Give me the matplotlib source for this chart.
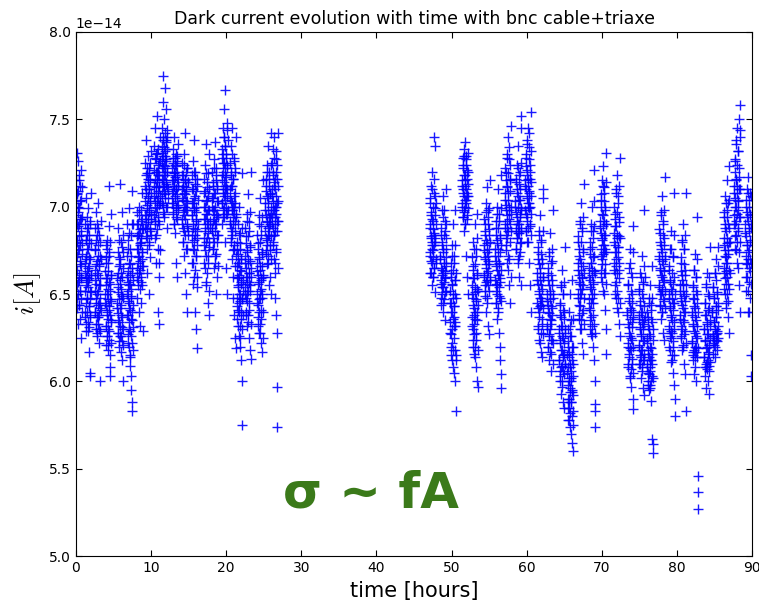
import matplotlib
matplotlib.use("Agg")
import matplotlib.pyplot as plt
import numpy as np

# Dark current readings, grouped by acquisition burst.
# Values are in units of 1e-16 A (e.g. 652 -> 6.52e-14 A).
first_run_times = [0.4, 1.6, 2.9, 4.3, 5.9, 7.2, 8.5, 9.6, 10.8, 11.8, 13.2,
                   14.5, 15.8, 17.4, 18.5, 19.8, 20.9, 21.8, 22.9, 24.5, 25.6, 26.5]
first_run_values = [
    "688 702 715 671 655 690 731 664 642 707 680 697 726 650 633 675 709 661 690 644 718 658 699 683 669 652 712 693 636 678 704 666 625 686 647 721 659 694 673 640",
    "668 690 652 637 681 660 705 645 629 672 694 657 640 684 663 648 676 634 699 654 688 643 666 631 679 659 617 605 603 692 647 670 638 661 708 651",
    "675 652 688 640 664 630 697 656 645 681 626 669 637 690 650 661 633 678 644 702 655 622 667 638 684 648 600 659 629 672 641 692",
    "663 645 678 632 655 621 671 640 650 626 681 659 636 647 618 668 630 712 689 643 657 624 674 638 652 615 608 603 661 634 696 646",
    "659 642 674 628 651 688 635 666 620 647 681 656 632 713 670 626 644 662 617 653 638 697 677 623 649 612 600 665 630 684",
    "672 650 690 638 663 627 681 646 657 620 668 634 699 655 642 615 676 629 661 609 648 684 603 636 595 653 622 588 665 640 583 709 658 631 690",
    "683 665 697 648 676 658 690 671 640 685 662 700 653 678 632 669 692 645 680 660 708 674 655 687 629 666",
    "712 695 725 683 708 690 738 701 676 719 687 662 705 729 693 716 680 698 650 722 710 688 703 671 715 696 732 684",
    "721 706 735 692 716 700 745 682 727 711 697 730 668 714 752 703 687 720 640 709 733 694 718 660 725 701 633 712 690 740 706 675",
    "731 716 745 702 727 760 712 738 697 722 775 709 734 750 718 694 729 742 707 723 768 714 737 700 726 756 711 740 688 720 733 705",
    "722 708 733 697 715 728 702 719 690 712 740 706 724 685 717 700 730 694 710 668 726 703 720 660 714 736 698",
    "710 693 725 680 704 718 688 712 672 700 730 695 715 662 707 742 684 720 698 650 709 690 722 676 703 640 714 686",
    "702 684 718 668 695 710 676 726 690 656 705 681 738 699 664 713 687 640 720 693 672 709 630 697 678 619 716 686 660 704",
    "700 682 716 668 693 709 675 724 688 655 703 680 736 696 662 711 690 645 719 685 672 706 638 698 677 730 692",
    "705 688 720 676 698 712 682 727 693 665 708 686 737 700 672 715 690 650 722 696 680 710 660 703 684",
    "718 702 733 690 725 710 745 698 730 714 756 706 740 694 722 767 708 735 680 717 700 728 665 712 748 696 724 650 710 738",
    "710 692 725 680 703 718 688 735 698 670 712 684 745 700 660 716 690 648 728 696 676 706 638 720 686 625 702 666 619 740 694",
    "666 648 680 636 659 673 641 690 654 626 668 645 700 661 632 676 650 620 685 657 640 670 612 663 647 719 600 575 652 638",
    "672 654 688 640 665 679 648 696 660 632 674 650 707 668 638 683 657 625 691 662 645 677 618 669 652 720 613 660",
    "668 650 684 637 661 676 644 695 657 628 670 647 705 664 633 680 653 622 689 659 641 674 617 666 648 715 640 660",
    "702 686 716 675 695 709 681 724 691 667 705 684 735 698 672 712 689 655 720 694 678 707 660 700 683 742 650",
    "710 694 725 680 703 718 688 733 698 670 712 684 740 700 662 716 690 648 727 696 676 706 638 720 686 628 702 597 574 742 692 712",
]
# denser readings in the middle of each burst
first_run_core = [
    "695 662 681 708 648 672 700 657 689 715 644 676 667 703 652 684 693 660 711 679",
    "662 640 681 655 670 633 688 648 676 658 629 665 684 643 671 652 690 637 679 661",
    "658 640 676 633 667 648 684 628 662 652 672 637 688 645 666 630 680 655 642 670",
    "650 632 668 644 659 626 676 638 653 621 663 641 672 629 656 647 680 635 661 622",
    "645 628 662 639 654 623 671 634 658 642 667 626 650 680 637 660 631 648 674 621",
    "660 638 676 622 652 645 685 630 667 614 656 641 672 626 649 690 635 662 618 644",
    "676 660 690 668 684 655 695 672 662 687 679 664 698 657 682 670 693 666 674 688",
    "703 688 718 695 710 682 722 699 714 691 706 678 719 697 710 686 702 725 693 708",
    "712 695 728 703 690 720 708 684 731 699 715 676 724 705 692 718 668 711 702 726",
    "722 708 735 715 701 729 740 712 724 696 732 718 705 738 713 727 700 720 744 710",
    "715 702 725 709 696 720 712 690 728 705 718 699 723 710 693 716 707 729 701 712",
    "705 690 718 697 680 712 724 686 708 700 693 716 676 711 703 722 689 698 714 684",
    "695 680 710 668 702 688 720 675 698 660 706 684 716 692 672 700 682 712 654 690",
    "693 678 708 665 700 686 719 672 696 657 704 682 714 690 668 698 680 710 652 688",
    "700 686 714 676 705 692 722 680 698 668 708 690 718 695 673 703 684 712 666 694",
    "715 702 728 694 720 708 740 699 725 712 735 704 718 696 730 710 744 706 722 698",
    "705 690 720 682 712 698 730 686 702 675 716 694 726 700 678 708 692 722 672 696",
    "660 643 675 632 655 668 640 684 650 625 664 646 679 656 636 670 648 688 630 658",
    "668 650 683 638 660 675 646 692 656 634 670 652 686 662 641 678 655 697 633 665",
    "663 645 679 632 656 671 640 690 652 628 666 648 684 658 636 673 650 694 625 661",
    "698 682 712 673 692 706 678 720 688 668 702 684 716 694 675 708 690 724 670 696",
    "706 690 720 678 698 714 684 728 694 668 710 686 732 700 674 716 692 724 665 703",
]

second_run_times = [47.5, 48.9, 50.2, 51.8, 53.1, 54.7, 56.2, 57.5, 58.9, 60.2, 61.8,
                    63.1, 64.7, 65.8, 67.2, 68.7, 70.2, 72.0, 73.8, 75.3, 76.4, 78.0,
                    79.3, 80.8, 82.4, 84.0, 85.1, 86.6, 88.0, 89.5]
second_run_values = [
    "690 674 705 662 683 697 669 712 680 655 693 676 720 687 660 700 671 740 684 665 708 678 651 695 682 735 668 702",
    "672 656 688 644 665 680 650 698 661 640 676 654 706 668 647 684 659 635 692 663 671 710 652 682",
    "652 634 668 620 645 660 627 678 640 612 656 630 690 648 618 664 637 605 672 643 625 658 600 650 632 698 583 615 662",
    "715 702 728 694 710 722 698 733 706 686 718 700 737 712 690 724 704 672 729 708 695 716 660 720 650 706",
    "655 637 671 624 648 664 630 680 642 616 659 633 690 651 620 667 640 608 676 646 628 661 600 653 635 696 597 644",
    "678 661 693 649 671 686 655 702 667 640 681 658 711 674 645 690 663 632 698 669 652 684 627 676 660 715",
    "676 658 692 645 669 684 652 700 664 636 679 655 710 672 640 688 661 628 696 667 649 682 620 674 657 612 604 596 718 664",
    "708 690 722 678 701 715 684 730 695 668 711 688 740 704 672 719 693 655 727 698 680 709 645 715 686 746 700",
    "703 688 716 676 697 710 682 724 692 668 706 685 735 700 672 713 690 660 720 694 679 704 655 745 698 752 686",
    "715 698 730 686 710 723 694 738 705 680 718 700 745 712 688 727 702 668 734 708 690 720 655 716 696 754 640 706",
    "662 645 677 632 656 670 640 686 650 624 665 643 695 658 628 673 648 617 681 653 636 668 614 660 642 705 710",
    "650 632 665 620 644 658 627 674 639 612 652 630 685 647 616 661 635 606 669 642 624 655 650 698 610",
    "630 612 645 600 624 638 606 655 618 593 632 609 664 626 597 641 615 588 650 622 604 636 585 628 610 677",
    "615 598 630 585 608 623 590 640 602 578 617 594 650 610 582 626 600 570 635 606 588 620 565 612 595 658 560 575 603 620 592",
    "668 650 683 638 661 676 644 692 656 630 670 648 702 664 635 680 653 622 688 659 641 674 616 666 648 713",
    "665 647 680 635 658 673 641 690 653 627 668 645 700 661 632 677 650 620 686 656 638 671 612 663 703 721 600 587 583 574",
    "692 676 707 664 685 700 670 715 681 657 695 673 723 689 662 703 678 650 711 684 667 698 641 690 674 731 616 630",
    "685 668 700 655 678 693 662 710 674 648 689 666 718 682 652 697 671 640 706 677 659 691 633 683 664 728 626",
    "640 622 656 610 633 648 616 665 628 603 642 619 676 636 607 652 625 597 660 631 613 645 590 637 620 689 584",
    "638 621 653 610 631 646 615 662 627 602 640 618 672 634 606 650 624 596 657 630 612 643 592 698 635 660",
    "625 610 640 600 618 632 605 648 614 595 627 608 655 620 598 636 612 589 644 616 603 666 567 564 559 630",
    "672 655 687 643 665 680 650 697 661 636 676 653 706 669 640 684 658 628 692 663 646 678 624 670 717 652",
    "650 632 666 620 643 658 626 676 638 611 653 629 686 647 615 662 635 605 671 641 623 656 598 645 630 708 590 580",
    "655 638 671 626 648 663 632 681 644 618 658 635 690 652 621 667 640 610 676 646 629 661 604 650 708 583",
    "640 623 655 612 633 648 617 664 629 604 643 620 673 637 608 652 626 600 660 632 614 645 694 546 537 527",
    "630 614 645 603 623 638 608 654 619 596 633 611 662 627 600 641 617 593 649 621 606 635 677 625",
    "640 626 654 616 634 648 621 662 630 614 643 624 670 637 618 651 628 677 645 632",
    "682 665 697 653 675 690 659 706 671 645 686 663 715 679 650 694 668 637 702 673 656 688 628 680 723 662",
    "712 695 727 683 705 720 690 736 700 675 715 692 745 708 680 724 698 665 732 703 686 717 655 710 750 758 640 694 740",
    "690 672 704 660 683 697 667 710 678 652 692 670 717 686 657 700 675 640 708 681 663 695 615 603 688 668",
]
second_run_core = [
    "688 672 702 662 682 695 668 710 678 660 692 675 716 685 665 699 680 706 670 690",
    "670 658 684 648 664 678 654 694 662 645 674 657 698 668 651 686 660 690 666 676",
    "645 628 662 615 640 655 622 672 636 608 650 632 668 643 618 658 634 678 612 648",
    "712 700 724 694 708 718 697 729 704 690 715 702 727 710 693 721 706 731 699 713",
    "650 632 666 620 644 659 627 676 638 614 654 636 672 647 624 662 640 682 618 652",
    "675 660 690 652 670 684 657 697 665 648 679 662 694 672 655 687 667 699 658 680",
    "672 656 688 645 666 681 650 696 661 642 676 654 692 668 648 684 659 699 646 678",
    "704 688 720 675 698 712 682 728 692 664 708 686 734 700 670 716 690 724 660 696",
    "700 686 714 676 694 708 682 722 690 670 704 685 718 696 674 710 688 725 680 699",
    "712 696 728 686 706 721 692 736 702 680 716 699 742 709 689 724 700 732 684 714",
    "658 642 674 630 652 667 637 684 648 622 662 644 680 655 633 670 646 686 627 660",
    "646 630 662 620 640 655 626 672 636 617 650 633 668 643 624 658 638 676 622 648",
    "628 612 644 603 622 637 608 654 618 600 632 614 650 625 606 640 616 657 610 630",
    "605 590 620 578 600 614 585 632 596 574 608 588 626 602 580 616 594 636 583 610",
    "664 648 680 636 657 672 643 690 653 630 668 650 686 660 639 676 655 694 633 662",
    "660 642 676 630 654 668 637 686 648 626 664 645 682 657 633 672 650 689 628 662",
    "688 672 704 660 682 696 667 712 678 652 692 674 708 684 662 700 676 714 656 690",
    "680 664 696 650 674 689 657 708 670 642 684 662 702 677 648 694 668 712 645 682",
    "638 620 655 608 631 646 614 668 626 602 641 618 662 634 610 650 624 674 605 640",
    "636 620 652 610 630 644 614 660 626 608 640 618 656 633 612 648 623 666 616 637",
    "622 608 637 598 616 630 604 645 612 596 626 606 641 619 600 634 610 648 602 624",
    "670 654 685 644 664 678 650 695 660 640 674 652 690 667 647 682 657 698 642 672",
    "648 630 664 618 642 657 625 676 637 612 652 628 672 645 620 660 634 684 615 650",
    "652 636 668 625 646 661 630 680 642 620 656 634 676 649 627 664 640 684 622 655",
    "638 622 654 615 632 647 618 664 628 614 642 620 660 635 617 650 625 670 619 640",
    "630 614 645 608 624 638 610 656 620 607 634 612 650 627 609 642 616 660 611 632",
    "640 626 654 622 634 648 624 662 630 620 643 627 658 637 623 650 629 666 625 641",
    "678 662 694 650 672 688 656 702 668 642 682 660 698 675 646 690 664 704 653 680",
    "708 690 726 676 700 716 684 738 696 668 712 688 732 704 674 722 694 744 680 710",
    "685 668 700 652 678 694 660 708 674 640 688 665 704 680 648 696 670 706 656 690",
]

BURST_WIDTH = 0.8  # hours covered by one acquisition burst


def expand(times, *value_lists):
    t_all, i_all = [], []
    for values in value_lists:
        for t0, row in zip(times, values):
            v = np.array(row.split(), dtype=float) * 1e-16
            t_all.append(np.linspace(t0 - BURST_WIDTH / 2, t0 + BURST_WIDTH / 2, len(v)))
            i_all.append(v)
    return np.concatenate(t_all), np.concatenate(i_all)


t1, i1 = expand(first_run_times, first_run_values, first_run_core)
t2, i2 = expand(second_run_times, second_run_values, second_run_core)
time = np.concatenate([t1, t2])
current = np.concatenate([i1, i2])

plt.rcParams.update({
    "font.family": "DejaVu Sans",
    "mathtext.fontset": "cm",
    "xtick.direction": "in",
    "ytick.direction": "in",
    "xtick.top": True,
    "ytick.right": True,
    "xtick.major.size": 4,
    "ytick.major.size": 4,
    "xtick.labelsize": 10,
    "ytick.labelsize": 10,
})

fig = plt.figure(figsize=(7.59, 6.02), dpi=100)
ax = fig.add_axes([0.100, 0.076, 0.891, 0.871])
ax.plot(time, current, "+", color="#0000ff", ms=6.5, mew=1.0, alpha=0.9)

ax.set_xlim(0, 90)
ax.set_ylim(5.0e-14, 8.0e-14)
ax.set_xticks(np.arange(0, 91, 10))
ax.set_yticks(np.arange(5.0, 8.01, 0.5) * 1e-14)
ax.yaxis.get_offset_text().set_fontsize(10)

ax.set_title("Dark current evolution with time with bnc cable+triaxe", fontsize=12.5)
ax.set_xlabel("time [hours]", fontsize=15)
ax.set_ylabel(r"$i[A]$", fontsize=19)

ax.text(39.3, 5.36e-14, "σ ~ fA", color="#3b7a1a", fontsize=36, fontweight="bold",
        ha="center", va="center")

fig.savefig("out.png", dpi=100, facecolor="white")
